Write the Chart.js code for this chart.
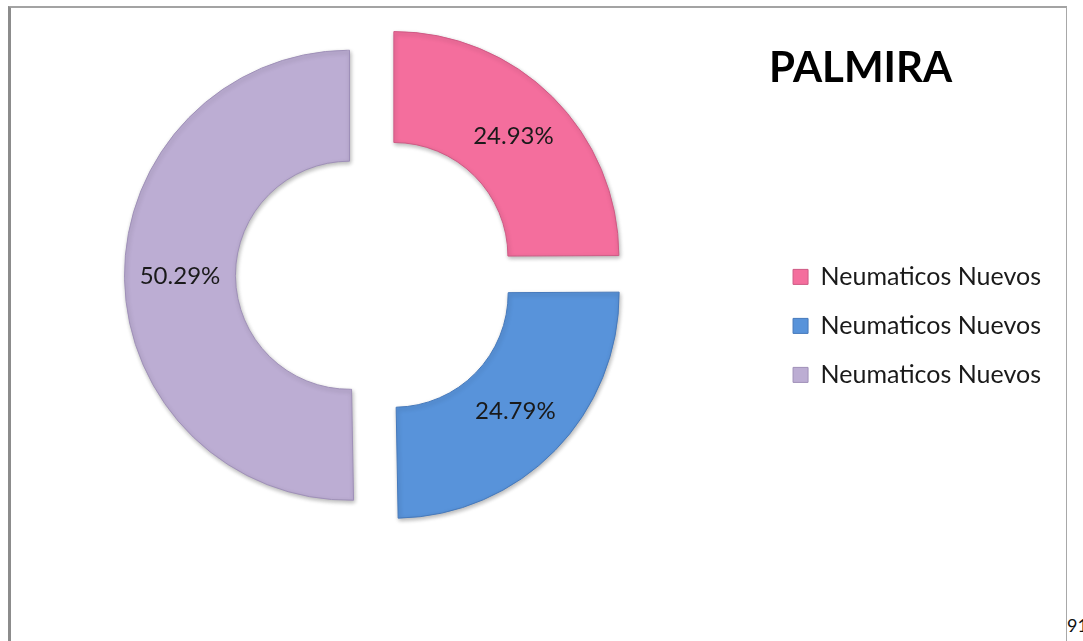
<!DOCTYPE html>
<html><head><meta charset="utf-8">
<script src="https://cdn.jsdelivr.net/npm/chart.js@4.4.1/dist/chart.umd.min.js"></script>
<style>
html,body{margin:0;padding:0;background:#fff;width:1083px;height:641px;overflow:hidden;position:relative;font-family:Lato,sans-serif}
#frame{position:absolute;left:8px;top:6px;width:1059px;height:700px;border-left:3px solid #8c8c8c;border-top:2px solid #a3a3a3;border-right:1px solid #a8a8a8;box-sizing:border-box}
#wrap{position:absolute;left:-18px;top:0;width:1069px;height:641px}
#page{position:absolute;left:1067px;top:614px;font:18px Lato,sans-serif;color:#111;white-space:nowrap}
</style></head>
<body>
<div id="frame"></div>
<div id="wrap"><canvas id="c"></canvas></div>
<div id="page"></div>
<script>
// ---- data ----
const categories = ['Neumaticos Nuevos', 'Neumaticos Nuevos', 'Neumaticos Nuevos'];
const shares = [24.93, 24.79, 50.29];
const chartTitle = 'PALMIRA';
const pageNumber = '91';
// ---- styles ----
const sliceColors = ['#F46E9D', '#5893DA', '#BCADD3'];
const sliceBorders = ['#cf5a85', '#4679bb', '#9f90b8'];
const EXPLODE = 26;

document.getElementById('page').textContent = pageNumber;

// exploded slices: shift each arc along its bisector, drawn by the library's arc element
const ArcEl = Chart.registry.getElement('arc');
const baseArcDraw = ArcEl.prototype.draw;
ArcEl.prototype.draw = function (ctx) {
  const mid = (this.startAngle + this.endAngle) / 2;
  ctx.save();
  ctx.translate(Math.cos(mid) * EXPLODE, Math.sin(mid) * EXPLODE);
  ctx.shadowColor = 'rgba(0,0,0,0.28)';
  ctx.shadowBlur = 4;
  ctx.shadowOffsetX = 1;
  ctx.shadowOffsetY = 2;
  baseArcDraw.call(this, ctx);
  ctx.restore();
};

const sliceLabels = {
  id: 'sliceLabels',
  afterDatasetsDraw(chart) {
    const ctx = chart.ctx;
    const meta = chart.getDatasetMeta(0);
    ctx.save();
    ctx.font = '24px Lato, sans-serif';
    ctx.fillStyle = '#1a1a1a';
    ctx.textAlign = 'center';
    ctx.textBaseline = 'middle';
    meta.data.forEach((arc, i) => {
      const p = arc.getCenterPoint();
      const mid = (arc.startAngle + arc.endAngle) / 2;
      ctx.fillText(shares[i].toFixed(2) + '%', p.x + Math.cos(mid) * EXPLODE, p.y + Math.sin(mid) * EXPLODE);
    });
    ctx.restore();
  }
};

function build() {
  new Chart(document.getElementById('c'), {
    type: 'doughnut',
    data: {
      labels: categories,
      datasets: [{
        data: shares,
        backgroundColor: sliceColors,
        borderColor: sliceBorders,
        borderWidth: 1,
        clip: false
      }]
    },
    options: {
      responsive: true,
      maintainAspectRatio: false,
      animation: false,
      events: [],
      radius: 225,
      cutout: '50.7%',
      layout: { padding: { left: 0, right: 0, top: 0, bottom: 91 } },
      plugins: {
        tooltip: { enabled: false },
        legend: {
          position: 'right',
          align: 'start',
          title: {
            display: true,
            text: chartTitle,
            position: 'start',
            color: '#000',
            font: { family: 'Lato', size: 42, weight: 'bold' },
            padding: { top: 47, bottom: 143 }
          },
          labels: {
            boxWidth: 15,
            boxHeight: 15,
            padding: 24,
            color: '#1a1a1a',
            font: { family: 'Lato', size: 25 }
          }
        }
      }
    },
    plugins: [sliceLabels]
  });
}

Promise.all([
  document.fonts.load('25px Lato'),
  document.fonts.load('bold 42px Lato')
]).then(build, build);
</script>
</body></html>
